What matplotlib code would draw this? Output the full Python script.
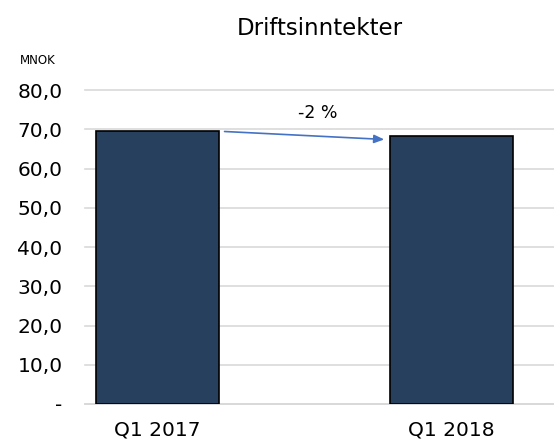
import matplotlib.pyplot as plt
import numpy as np

categories = ["Q1 2017", "Q1 2018"]
values = [69.5, 68.2]
change_label = "-2 %"
yticks = [0, 10, 20, 30, 40, 50, 60, 70, 80]
ytick_labels = ["-", "10,0", "20,0", "30,0", "40,0", "50,0", "60,0", "70,0", "80,0"]

plt.rcParams['font.family'] = ['DejaVu Sans']

fig = plt.figure(figsize=(5.54, 4.42), dpi=100)
ax = fig.add_axes([0.153, 0.086, 0.847, 0.71])

x = np.arange(len(categories))
width = 0.418
ax.bar(x, values, width=width, color="#26405e", edgecolor="black", linewidth=1.2, zorder=3)

ax.set_xlim(-0.247, 1.349)
ax.set_ylim(0, 80)
ax.set_yticks(yticks)
ax.set_yticklabels(ytick_labels, fontsize=14.5)
ax.set_xticks(x)
ax.set_xticklabels(categories, fontsize=14.5)
ax.tick_params(axis="y", length=0, pad=16)
ax.tick_params(axis="x", length=0, pad=12)
for s in ["top", "right", "left"]:
  ax.spines[s].set_visible(False)
ax.spines["bottom"].set_color("#d9d9d9")
ax.spines["bottom"].set_linewidth(1.3)
ax.yaxis.grid(True, color="#d9d9d9", linewidth=1.2, zorder=0)
for gl in ax.get_ygridlines():
  gl.set_clip_on(False)

# change arrow between bars
ax.annotate("", xy=(x[1] - width / 2 - 0.01, values[1] - 0.8),
            xytext=(x[0] + width / 2 + 0.01, values[0]),
            arrowprops=dict(arrowstyle="-|>,head_length=0.6,head_width=0.25", color="#4472c4", lw=1.2),
            zorder=4)
ax.text(0.546, 74.2, change_label, ha="center", va="center", fontsize=12.5)

fig.text(0.578, 0.935, "Driftsinntekter", ha="center", va="center", fontsize=16.5)
fig.text(0.068, 0.863, "MNOK", ha="center", va="center", fontsize=8.5)

fig.savefig("out.png", dpi=100)
